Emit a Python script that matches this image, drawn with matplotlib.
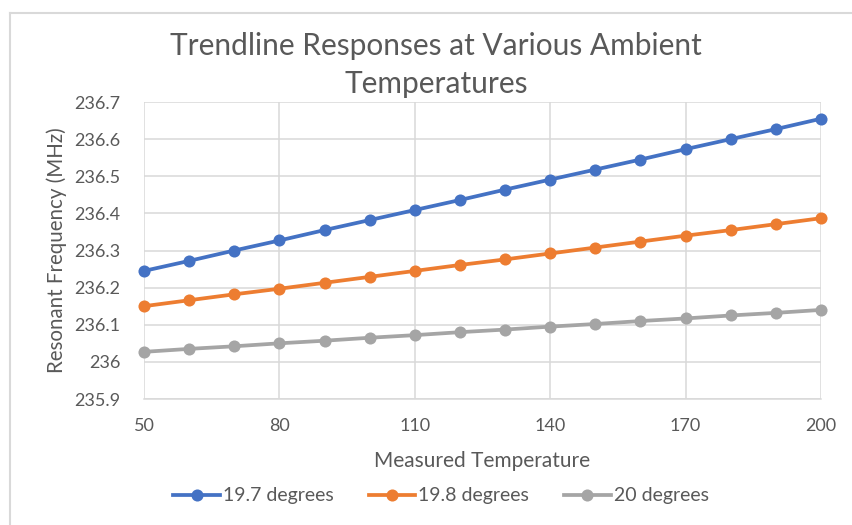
import matplotlib
matplotlib.use("Agg")
import matplotlib.pyplot as plt
from matplotlib.lines import Line2D

# measured temperature points (trendline samples)
temps = [50, 60, 70, 80, 90, 100, 110, 120, 130, 140, 150, 160, 170, 180, 190, 200]

freq_197 = [236.245, 236.272, 236.300, 236.327, 236.355, 236.382, 236.409, 236.436,
            236.464, 236.491, 236.518, 236.545, 236.573, 236.600, 236.627, 236.655]
freq_198 = [236.150, 236.166, 236.182, 236.197, 236.213, 236.229, 236.245, 236.261,
            236.276, 236.292, 236.308, 236.324, 236.340, 236.355, 236.371, 236.387]
freq_200 = [236.027, 236.035, 236.042, 236.050, 236.057, 236.065, 236.072, 236.080,
            236.087, 236.095, 236.102, 236.110, 236.117, 236.125, 236.132, 236.140]

series_labels = ["19.7 degrees", "19.8 degrees", "20 degrees"]
x_ticks = [50, 80, 110, 140, 170, 200]
y_ticks = [235.9, 236.0, 236.1, 236.2, 236.3, 236.4, 236.5, 236.6, 236.7]
y_tick_labels = ["235.9", "236", "236.1", "236.2", "236.3", "236.4", "236.5", "236.6", "236.7"]

colors = ["#4472C4", "#ED7D31", "#A5A5A5"]
text_color = "#595959"
grid_color = "#d9d9d9"

plt.rcParams["font.family"] = ["Lato", "DejaVu Sans"]

fig = plt.figure(figsize=(8.52, 5.25), dpi=100)
fig.patch.set_facecolor("white")
ax = fig.add_axes([0.169, 0.24, 0.7946, 0.5657])

for ys, c, lab in zip([freq_197, freq_198, freq_200], colors, series_labels):
    ax.plot(temps, ys, color=c, lw=2.7, marker="o", markersize=8.7,
            markeredgewidth=0, label=lab, zorder=3, clip_on=False)

ax.set_xlim(50, 200)
ax.set_ylim(235.9, 236.7)
ax.set_xticks(x_ticks)
ax.set_yticks(y_ticks)
ax.set_yticklabels(y_tick_labels)
ax.tick_params(length=0, labelsize=13, colors=text_color)
ax.tick_params(axis="y", pad=17)
ax.tick_params(axis="x", pad=14)
ax.grid(True, color=grid_color, lw=1.1)
ax.set_axisbelow(True)
for s in ("top", "right", "left"):
    ax.spines[s].set_visible(False)
ax.spines["bottom"].set_color(grid_color)
ax.spines["bottom"].set_linewidth(1.1)

ax.set_xlabel("Measured Temperature", fontsize=15, color=text_color, labelpad=12)
ax.set_ylabel("Resonant Frequency (MHz)", fontsize=14.8, color=text_color, labelpad=5)

fig.text(436 / 852, 1 - 65 / 525,
         "Trendline Responses at Various Ambient\nTemperatures",
         ha="center", va="center", fontsize=21.5, color=text_color, linespacing=1.45)

ax.legend(loc="center", bbox_to_anchor=(441 / 852, 1 - 496 / 525),
          bbox_transform=fig.transFigure, ncol=3, frameon=False,
          fontsize=14, labelcolor=text_color, handlelength=2.4,
          handletextpad=0.15, columnspacing=1.8)

# chart frame edges
fig.add_artist(Line2D([10 / 852, 1], [1 - 13 / 525, 1 - 13 / 525],
                      transform=fig.transFigure, color=grid_color, lw=1.5))
fig.add_artist(Line2D([10 / 852, 10 / 852], [0, 1 - 13 / 525],
                      transform=fig.transFigure, color=grid_color, lw=1.5))

fig.savefig("out.png", dpi=100)
